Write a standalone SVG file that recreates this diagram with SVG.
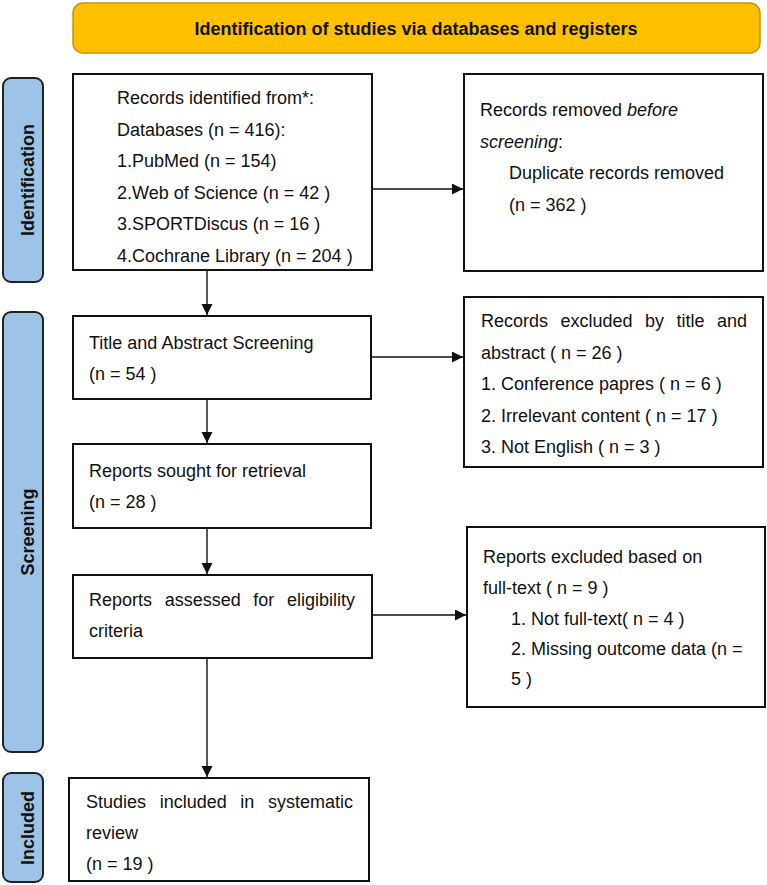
<svg xmlns="http://www.w3.org/2000/svg" width="767" height="885" viewBox="0 0 767 885">
<defs>
<style>
text{font-family:"Liberation Sans",Arial,sans-serif;font-size:18px;fill:#111}
.b{font-weight:bold}
.box{fill:#fff;stroke:#111;stroke-width:2}
.side{fill:#9DC3E6;stroke:#222;stroke-width:2}
.con{stroke:#111;stroke-width:1.4;fill:none}
.i{font-style:italic}
</style>
<marker id="ah" markerUnits="userSpaceOnUse" markerWidth="12" markerHeight="12" refX="11" refY="5.5" orient="auto">
<path d="M0,0 L11,5.5 L0,11 z" fill="#111"/>
</marker>
</defs>

<g id="banner">
<rect x="73" y="3" width="687" height="50" rx="10" fill="#FFC000" stroke="#C9940A" stroke-width="1.5"/>
<text class="b" x="416" y="34.5" text-anchor="middle">Identification of studies via databases and registers</text>
</g>

<g id="label-identification">
<rect class="side" x="3" y="78" width="40" height="204" rx="8"/>
<text class="b" transform="translate(34,180) rotate(-90)" text-anchor="middle">Identification</text>
</g>
<g id="label-screening">
<rect class="side" x="3" y="312" width="40" height="440" rx="8"/>
<text class="b" transform="translate(34,532) rotate(-90)" text-anchor="middle">Screening</text>
</g>
<g id="label-included">
<rect class="side" x="3" y="773" width="40" height="109" rx="8"/>
<text class="b" transform="translate(34,828) rotate(-90)" text-anchor="middle">Included</text>
</g>

<g id="records-identified">
<rect class="box" x="73" y="74" width="299" height="196"/>
<text x="117" y="104">Records identified from*:</text>
<text x="117" y="135.6">Databases (n = 416):</text>
<text x="117" y="167.2">1.PubMed (n = 154)</text>
<text x="117" y="198.8">2.Web of Science (n = 42 )</text>
<text x="117" y="230.4">3.SPORTDiscus (n = 16 )</text>
<text x="117" y="262">4.Cochrane Library (n = 204 )</text>
</g>

<g id="records-removed">
<rect class="box" x="464" y="74" width="299" height="197"/>
<text x="480" y="116">Records removed <tspan class="i">before</tspan></text>
<text x="480" y="147.5"><tspan class="i">screening</tspan>:</text>
<text x="509" y="179">Duplicate records removed</text>
<text x="509" y="210.5">(n = 362 )</text>
</g>

<g id="title-abstract-screening">
<rect class="box" x="73" y="316" width="298" height="83"/>
<text x="89" y="349">Title and Abstract Screening</text>
<text x="89" y="380">(n = 54 )</text>
</g>

<g id="records-excluded">
<rect class="box" x="464" y="297" width="299" height="170"/>
<text y="327"><tspan x="481">Records</tspan><tspan x="560.5">excluded</tspan><tspan x="645">by</tspan><tspan x="676.5">title</tspan><tspan x="717">and</tspan></text>
<text x="481" y="358.5">abstract ( n = 26 )</text>
<text x="481" y="390">1. Conference papres ( n = 6 )</text>
<text x="481" y="421.5">2. Irrelevant content ( n = 17 )</text>
<text x="481" y="453">3. Not English ( n = 3 )</text>
</g>

<g id="reports-sought">
<rect class="box" x="73" y="444" width="298" height="84"/>
<text x="89" y="477">Reports sought for retrieval</text>
<text x="89" y="508">(n = 28 )</text>
</g>

<g id="reports-assessed">
<rect class="box" x="73" y="575" width="299" height="83"/>
<text y="606"><tspan x="89">Reports</tspan><tspan x="164.7">assessed</tspan><tspan x="253.3">for</tspan><tspan x="287">eligibility</tspan></text>
<text x="89" y="637">criteria</text>
</g>

<g id="reports-excluded">
<rect class="box" x="467" y="527" width="298" height="180"/>
<text x="483" y="563">Reports excluded based on</text>
<text x="483" y="593.5">full-text ( n = 9 )</text>
<text x="511" y="625">1. Not full-text( n = 4 )</text>
<text x="511" y="655">2. Missing outcome data (n =</text>
<text x="511" y="685">5 )</text>
</g>

<g id="studies-included">
<rect class="box" x="69" y="778" width="300" height="103"/>
<text y="808"><tspan x="86">Studies</tspan><tspan x="159.7">included</tspan><tspan x="240.3">in</tspan><tspan x="268">systematic</tspan></text>
<text x="86" y="839">review</text>
<text x="86" y="870">(n = 19 )</text>
</g>

<g id="connectors">
<line class="con" x1="207" y1="271" x2="207" y2="315" marker-end="url(#ah)"/>
<line class="con" x1="207" y1="400" x2="207" y2="443" marker-end="url(#ah)"/>
<line class="con" x1="207" y1="529" x2="207" y2="574" marker-end="url(#ah)"/>
<line class="con" x1="207" y1="659" x2="207" y2="777" marker-end="url(#ah)"/>
<line class="con" x1="373" y1="189" x2="463" y2="189" marker-end="url(#ah)"/>
<line class="con" x1="372" y1="357" x2="463" y2="357" marker-end="url(#ah)"/>
<line class="con" x1="373" y1="615" x2="466" y2="615" marker-end="url(#ah)"/>
</g>
</svg>
